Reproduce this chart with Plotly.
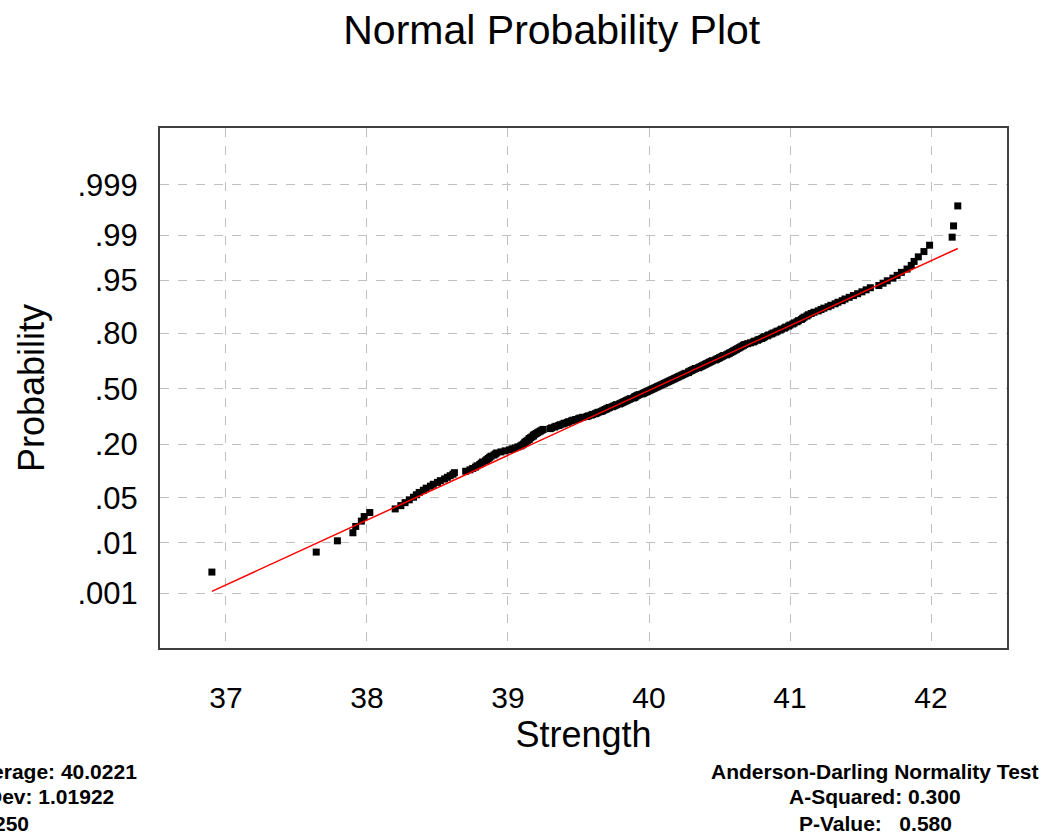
from statistics import NormalDist
import plotly.graph_objects as go

# ---- data ----
strength = [
    36.90, 37.64, 37.79, 37.90, 37.92, 37.96, 37.98, 38.02, 38.20, 38.24,
    38.27, 38.30, 38.33, 38.35, 38.37, 38.40, 38.42, 38.45, 38.47, 38.50,
    38.52, 38.55, 38.57, 38.59, 38.61, 38.62, 38.70, 38.73, 38.75, 38.77,
    38.78, 38.80, 38.81, 38.82, 38.84, 38.85, 38.86, 38.87, 38.88, 38.90,
    38.91, 38.92, 38.95, 38.98, 39.01, 39.03, 39.05, 39.07, 39.09, 39.10,
    39.11, 39.12, 39.12, 39.13, 39.14, 39.15, 39.15, 39.16, 39.17, 39.18,
    39.18, 39.19, 39.20, 39.21, 39.22, 39.23, 39.24, 39.25, 39.30, 39.31,
    39.33, 39.34, 39.36, 39.37, 39.39, 39.40, 39.42, 39.43, 39.45, 39.46,
    39.48, 39.50, 39.51, 39.53, 39.56, 39.57, 39.59, 39.60, 39.62, 39.63,
    39.64, 39.66, 39.67, 39.68, 39.69, 39.70, 39.71, 39.72, 39.74, 39.75,
    39.76, 39.77, 39.79, 39.80, 39.81, 39.82, 39.83, 39.84, 39.85, 39.86,
    39.87, 39.89, 39.90, 39.90, 39.91, 39.92, 39.93, 39.95, 39.96, 39.97,
    39.98, 39.99, 40.00, 40.01, 40.02, 40.03, 40.04, 40.05, 40.06, 40.07,
    40.08, 40.09, 40.10, 40.11, 40.12, 40.13, 40.14, 40.15, 40.16, 40.17,
    40.18, 40.19, 40.20, 40.21, 40.22, 40.23, 40.24, 40.25, 40.26, 40.28,
    40.28, 40.29, 40.30, 40.31, 40.32, 40.33, 40.35, 40.36, 40.37, 40.38,
    40.39, 40.40, 40.41, 40.42, 40.43, 40.44, 40.45, 40.47, 40.48, 40.49,
    40.50, 40.51, 40.52, 40.53, 40.55, 40.56, 40.57, 40.58, 40.59, 40.60,
    40.61, 40.62, 40.63, 40.64, 40.65, 40.66, 40.67, 40.68, 40.70, 40.72,
    40.74, 40.75, 40.77, 40.78, 40.80, 40.81, 40.82, 40.84, 40.85, 40.87,
    40.88, 40.90, 40.91, 40.93, 40.94, 40.96, 40.97, 40.99, 41.00, 41.02,
    41.03, 41.05, 41.06, 41.08, 41.09, 41.10, 41.12, 41.13, 41.15, 41.17,
    41.20, 41.22, 41.24, 41.27, 41.29, 41.32, 41.34, 41.37, 41.39, 41.42,
    41.45, 41.48, 41.51, 41.54, 41.57, 41.63, 41.66, 41.69, 41.73, 41.76,
    41.79, 41.83, 41.86, 41.88, 41.91, 41.95, 41.99, 42.15, 42.16, 42.19,
]
average = 40.0221
stdev = 1.01922
n_obs = 250
a_squared = "0.300"
p_value = "0.580"

prob_ticks = [0.001, 0.01, 0.05, 0.20, 0.50, 0.80, 0.95, 0.99, 0.999]
prob_labels = [".001", ".01", ".05", ".20", ".50", ".80", ".95", ".99", ".999"]
x_ticks = [37, 38, 39, 40, 41, 42]

# ---- normal scores (median-rank plotting positions) ----
nd = NormalDist()
xs = sorted(strength)
n = len(xs)
zs = [nd.inv_cdf((i - 0.3) / (n + 0.4)) for i in range(1, n + 1)]
tick_z = [nd.inv_cdf(p) for p in prob_ticks]

# fitted line from the reported mean / stdev
line_x = [min(xs), max(xs)]
line_z = [(v - average) / stdev for v in line_x]

FONT = "Liberation Sans, Arial, sans-serif"

fig = go.Figure()
fig.add_trace(go.Scatter(
    x=xs, y=zs, mode="markers",
    marker=dict(symbol="square", size=7, color="black", line=dict(width=0)),
    showlegend=False))
fig.add_trace(go.Scatter(
    x=line_x, y=line_z, mode="lines",
    line=dict(color="#ff0000", width=1.5), hoverinfo="skip", showlegend=False))

fig.update_layout(
    width=1047, height=838,
    margin=dict(l=160, r=40, t=128, b=190),
    paper_bgcolor="white", plot_bgcolor="white",
    font=dict(family=FONT, color="black"),
    title=dict(text="Normal Probability Plot", x=0.527, xref="container",
               xanchor="center", y=0.965, yref="container", yanchor="middle",
               font=dict(size=41, family=FONT, color="black")),
    xaxis=dict(range=[36.532, 42.539], tickvals=x_ticks,
               ticktext=[str(v) for v in x_ticks],
               showgrid=True, gridcolor="#c0c0c0", griddash="dash", gridwidth=1,
               zeroline=False, showline=True, linecolor="#404040", linewidth=2,
               mirror=True, ticks="", ticklabelstandoff=22,
               tickfont=dict(size=30, family=FONT, color="black"),
               title=dict(text="Strength", standoff=4,
                          font=dict(size=36, family=FONT, color="black"))),
    yaxis=dict(range=[-3.92, 3.95], tickvals=tick_z, ticktext=prob_labels,
               showgrid=True, gridcolor="#c0c0c0", griddash="dash", gridwidth=1,
               zeroline=False, showline=True, linecolor="#404040", linewidth=2,
               mirror=True, ticks="", ticklabelstandoff=14,
               tickfont=dict(size=31, family=FONT, color="black"),
               title=dict(text="Probability", standoff=22,
                          font=dict(size=36, family=FONT, color="black"))),
)

def px_to_paper_x(px):
    return (px - 160) / 847.0

def py_to_paper_y(py):
    return (648 - py) / 520.0

stat_font = dict(size=21, family=FONT, color="black")
left_lines = [f"<b>Average: {average}</b>", f"<b>StDev: {stdev}</b>", f"<b>N: {n_obs}</b>"]
right_lines = ["<b>Anderson-Darling Normality Test</b>",
               f"<b>A-Squared: {a_squared}</b>",
               f"<b>P-Value:&nbsp;&nbsp;&nbsp;{p_value}</b>"]
for k, py in enumerate([771, 797, 823]):
    fig.add_annotation(text=left_lines[k], xref="paper", yref="paper",
                       x=px_to_paper_x(-36), y=py_to_paper_y(py),
                       xanchor="left", yanchor="middle", showarrow=False,
                       font=stat_font, align="left")
    fig.add_annotation(text=right_lines[k],
                       xref="paper", yref="paper",
                       x=px_to_paper_x(875), y=py_to_paper_y(py),
                       xanchor="center", yanchor="middle", showarrow=False,
                       font=stat_font, align="center")

fig.write_html("out.html", config={"displayModeBar": False},
               post_script="document.body.style.margin='0';document.body.style.overflow='hidden';")
